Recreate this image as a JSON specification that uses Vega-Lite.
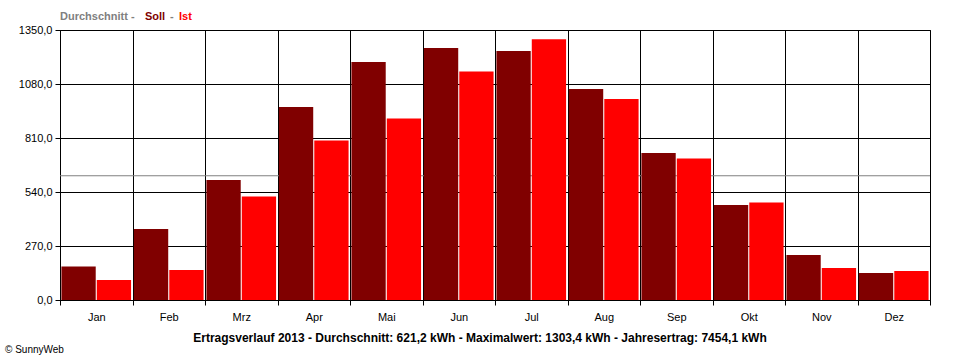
{
  "$schema": "https://vega.github.io/schema/vega-lite/v6.json",
  "width": 870,
  "height": 270,
  "autosize": {"type": "none"},
  "padding": {"left": 60, "top": 30, "right": 30, "bottom": 60},
  "background": "white",
  "config": {
    "view": {"stroke": "black", "strokeWidth": 1},
    "font": "Liberation Sans"
  },
  "datasets": {
    "bars": [
      {"month": "Jan", "series": "Soll", "kwh": 167},
      {"month": "Jan", "series": "Ist", "kwh": 100},
      {"month": "Feb", "series": "Soll", "kwh": 355},
      {"month": "Feb", "series": "Ist", "kwh": 150},
      {"month": "Mrz", "series": "Soll", "kwh": 600},
      {"month": "Mrz", "series": "Ist", "kwh": 518},
      {"month": "Apr", "series": "Soll", "kwh": 965},
      {"month": "Apr", "series": "Ist", "kwh": 798},
      {"month": "Mai", "series": "Soll", "kwh": 1190},
      {"month": "Mai", "series": "Ist", "kwh": 908},
      {"month": "Jun", "series": "Soll", "kwh": 1260},
      {"month": "Jun", "series": "Ist", "kwh": 1143},
      {"month": "Jul", "series": "Soll", "kwh": 1245},
      {"month": "Jul", "series": "Ist", "kwh": 1303.4},
      {"month": "Aug", "series": "Soll", "kwh": 1055},
      {"month": "Aug", "series": "Ist", "kwh": 1005},
      {"month": "Sep", "series": "Soll", "kwh": 735},
      {"month": "Sep", "series": "Ist", "kwh": 707},
      {"month": "Okt", "series": "Soll", "kwh": 475},
      {"month": "Okt", "series": "Ist", "kwh": 487},
      {"month": "Nov", "series": "Soll", "kwh": 225},
      {"month": "Nov", "series": "Ist", "kwh": 160},
      {"month": "Dez", "series": "Soll", "kwh": 135},
      {"month": "Dez", "series": "Ist", "kwh": 145}
    ],
    "avg": [{"label": "Durchschnitt", "kwh": 621.2}]
  },
  "layer": [
    {
      "data": {"name": "avg"},
      "mark": {"type": "rule", "color": "#808080", "strokeWidth": 1},
      "encoding": {
        "y": {"field": "kwh", "type": "quantitative", "scale": {"domain": [0, 1350], "nice": false, "zero": true}}
      }
    },
    {
      "data": {"name": "bars"},
      "mark": {"type": "bar"},
      "encoding": {
        "x": {
          "field": "month", "type": "nominal",
          "sort": ["Jan","Feb","Mrz","Apr","Mai","Jun","Jul","Aug","Sep","Okt","Nov","Dez"],
          "scale": {"paddingInner": 0, "paddingOuter": 0},
          "axis": {
            "title": null, "labelAngle": 0, "tickBand": "extent", "grid": true,
            "gridColor": "black", "gridOpacity": 1, "gridWidth": 1,
            "domainColor": "black", "tickColor": "black", "tickSize": 5,
            "labelPadding": 6, "labelFontSize": 11, "labelColor": "black",
            "labelFont": "Liberation Sans"
          }
        },
        "xOffset": {
          "field": "series", "type": "nominal", "sort": ["Soll", "Ist"],
          "scale": {"paddingInner": 0.03, "paddingOuter": 0.04}
        },
        "y": {
          "field": "kwh", "type": "quantitative",
          "scale": {"domain": [0, 1350], "nice": false, "zero": true},
          "axis": {
            "title": null, "values": [0, 270, 540, 810, 1080, 1350],
            "grid": true, "gridColor": "black", "gridOpacity": 1, "gridWidth": 1,
            "domainColor": "black", "tickColor": "black", "tickSize": 5,
            "labelPadding": 3, "labelFontSize": 11, "labelColor": "black",
            "labelFont": "Liberation Sans",
            "labelExpr": "replace(format(datum.value, '.1f'), '.', ',')"
          }
        },
        "color": {
          "field": "series", "type": "nominal",
          "scale": {"domain": ["Soll", "Ist"], "range": ["#800000", "#ff0000"]},
          "legend": null
        }
      }
    },
    {
      "data": {"values": [{"t": "Durchschnitt -"}]},
      "mark": {"type": "text", "align": "left", "baseline": "alphabetic", "fontWeight": "bold", "fontSize": 11, "color": "#808080"},
      "encoding": {"text": {"field": "t"}, "x": {"value": 0}, "y": {"value": -10}}
    },
    {
      "data": {"values": [{"t": "Soll"}]},
      "mark": {"type": "text", "align": "left", "baseline": "alphabetic", "fontWeight": "bold", "fontSize": 11, "color": "#800000"},
      "encoding": {"text": {"field": "t"}, "x": {"value": 85}, "y": {"value": -10}}
    },
    {
      "data": {"values": [{"t": "-"}]},
      "mark": {"type": "text", "align": "left", "baseline": "alphabetic", "fontWeight": "bold", "fontSize": 11, "color": "#808080"},
      "encoding": {"text": {"field": "t"}, "x": {"value": 110}, "y": {"value": -10}}
    },
    {
      "data": {"values": [{"t": "Ist"}]},
      "mark": {"type": "text", "align": "left", "baseline": "alphabetic", "fontWeight": "bold", "fontSize": 11, "color": "#ff0000"},
      "encoding": {"text": {"field": "t"}, "x": {"value": 119}, "y": {"value": -10}}
    },
    {
      "data": {"values": [{"t": "Ertragsverlauf 2013 - Durchschnitt: 621,2 kWh - Maximalwert: 1303,4 kWh - Jahresertrag: 7454,1 kWh"}]},
      "mark": {"type": "text", "align": "center", "baseline": "alphabetic", "fontWeight": "bold", "fontSize": 12, "color": "black"},
      "encoding": {"text": {"field": "t"}, "x": {"value": 420}, "y": {"value": 312}}
    },
    {
      "data": {"values": [{"t": "© SunnyWeb"}]},
      "mark": {"type": "text", "align": "left", "baseline": "alphabetic", "fontSize": 10, "color": "black"},
      "encoding": {"text": {"field": "t"}, "x": {"value": -55}, "y": {"value": 323}}
    }
  ]
}
